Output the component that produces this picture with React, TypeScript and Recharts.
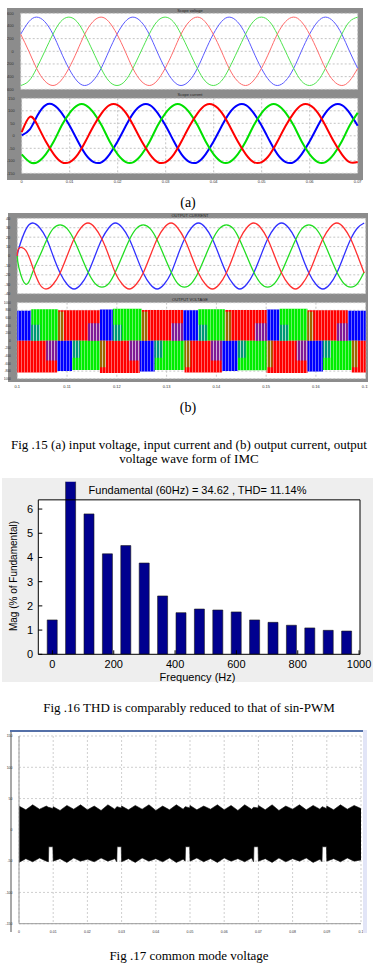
import React from "react";
import {
  LineChart,
  Line,
  BarChart,
  Bar,
  AreaChart,
  Area,
  XAxis,
  YAxis,
  CartesianGrid,
  ReferenceArea,
  ReferenceLine,
} from "recharts";

// ---- Fig 15 (a): input voltage / input current, 50 Hz, 0..0.07 s ----
const inTime = [
  0, 0.0017, 0.0033, 0.005, 0.0067, 0.0083, 0.01, 0.0117, 0.0133, 0.015, 0.0167, 0.0183,
  0.02, 0.0217, 0.0233, 0.025, 0.0267, 0.0283, 0.03, 0.0317, 0.0333, 0.035, 0.0367, 0.0383,
  0.04, 0.0417, 0.0433, 0.045, 0.0467, 0.0483, 0.05, 0.0517, 0.0533, 0.055, 0.0567, 0.0583,
  0.06, 0.0617, 0.0633, 0.065, 0.0667, 0.0683, 0.07,
];
const vinBlue = [
  270, 468, 540, 468, 270, 0, -270, -468, -540, -468, -270, 0,
  270, 468, 540, 468, 270, 0, -270, -468, -540, -468, -270, 0,
  270, 468, 540, 468, 270, 0, -270, -468, -540, -468, -270, 0,
  270, 468, 540, 468, 270, 0, -270,
];
const vinGreen = [
  -540, -468, -270, 0, 270, 468, 540, 468, 270, 0, -270, -468,
  -540, -468, -270, 0, 270, 468, 540, 468, 270, 0, -270, -468,
  -540, -468, -270, 0, 270, 468, 540, 468, 270, 0, -270, -468,
  -540, -468, -270, 0, 270, 468, 540,
];
const vinRed = [
  270, 0, -270, -468, -540, -468, -270, 0, 270, 468, 540, 468,
  270, 0, -270, -468, -540, -468, -270, 0, 270, 468, 540, 468,
  270, 0, -270, -468, -540, -468, -270, 0, 270, 468, 540, 468,
  270, 0, -270, -468, -540, -468, -270,
];
const iinBlue = [
  2, 26, 82, 123, 123, 92, 40, -22, -74, -105, -105, -74,
  -22, 40, 92, 123, 123, 92, 40, -22, -74, -105, -105, -74,
  -22, 40, 92, 123, 123, 92, 40, -22, -74, -105, -105, -74,
  -22, 40, 92, 123, 123, 92, 40,
];
const iinGreen = [
  -74, -105, -105, -74, -22, 40, 92, 123, 123, 92, 40, -22,
  -74, -105, -105, -74, -22, 40, 92, 123, 123, 92, 40, -22,
  -74, -105, -105, -74, -22, 40, 92, 123, 123, 92, 40, -22,
  -74, -105, -105, -74, -22, 40, 92,
];
const iinRed = [
  15, 76, 42, -22, -74, -105, -105, -74, -22, 40, 92, 123,
  123, 92, 40, -22, -74, -105, -105, -74, -22, 40, 92, 123,
  123, 92, 40, -22, -74, -105, -105, -74, -22, 40, 92, 123,
  123, 92, 40, -22, -74, -105, -105,
];
const inTicks = [0, 0.01, 0.02, 0.03, 0.04, 0.05, 0.06, 0.07];
const vinTicks = [-600, -400, -200, 0, 200, 400, 600];
const iinTicks = [-150, -100, -50, 0, 50, 100, 150];

// ---- Fig 15 (b): output current / output voltage, 60 Hz, 0.1..0.17 s ----
const outTime = [
  0.1, 0.1003, 0.1017, 0.1031, 0.1045, 0.1059, 0.1072, 0.1086, 0.11, 0.1114, 0.1128, 0.1142,
  0.1156, 0.117, 0.1184, 0.1197, 0.1211, 0.1225, 0.1239, 0.1253, 0.1267, 0.1281, 0.1295,
  0.1309, 0.1322, 0.1336, 0.135, 0.1364, 0.1378, 0.1392, 0.1406, 0.142, 0.1434, 0.1447,
  0.1461, 0.1475, 0.1489, 0.1503, 0.1517, 0.1531, 0.1545, 0.1559, 0.1572, 0.1586, 0.16,
  0.1614, 0.1628, 0.1642, 0.1656, 0.167, 0.1684, 0.1697,
];
const ioutBlue = [
  0, 8, 28, 35, 30, 18, 0, -18, -30, -35, -30, -18, 0,
  18, 30, 35, 30, 18, 0, -18, -30, -35, -30, -18, 0,
  18, 30, 35, 30, 18, 0, -18, -30, -35, -30, -18, 0,
  18, 30, 35, 30, 18, 0, -18, -30, -35, -30, -18, 0,
  18, 30, 35,
];
const ioutGreen = [
  0, -12, -30, -17, 0, 17, 29, 33, 29, 17, 0, -17, -29,
  -33, -29, -17, 0, 17, 29, 33, 29, 17, 0, -17, -29,
  -33, -29, -17, 0, 17, 29, 33, 29, 17, 0, -17, -29,
  -33, -29, -17, 0, 17, 29, 33, 29, 17, 0, -17, -29,
  -33, -29, -17,
];
const ioutRed = [
  0, 8, 6, -12, -30, -35, -30, -18, 0, 18, 30, 35, 30,
  18, 0, -18, -30, -35, -30, -18, 0, 18, 30, 35, 30,
  18, 0, -18, -30, -35, -30, -18, 0, 18, 30, 35, 30,
  18, 0, -18, -30, -35, -30, -18, 0, 18, 30, 35, 30,
  18, 0, -18,
];
const outTicks = [0.1, 0.11, 0.12, 0.13, 0.14, 0.15, 0.16, 0.17];
const ioutTicks = [-40, -30, -20, -10, 0, 10, 20, 30, 40];
const voutTicks = [-1000, -800, -600, -400, -200, 0, 200, 400, 600, 800, 1000];

// PWM output voltage: dominant phase colour blocks (start time, colour, envelope)
const voutUpStart = [0.1, 0.1028, 0.1082, 0.1166, 0.1192, 0.125, 0.1333, 0.1363, 0.1417, 0.1501, 0.1527, 0.1583, 0.1664];
const voutUpColor = ["b", "g", "r", "b", "g", "r", "b", "g", "r", "b", "g", "r", "b"];
const voutUpTop = [790, 830, 800, 820, 840, 810, 800, 830, 810, 820, 840, 800, 790];
const voutLowStart = [0.1, 0.108, 0.111, 0.1166, 0.1246, 0.1276, 0.1336, 0.1411, 0.1443, 0.1501, 0.1583, 0.1614, 0.1672];
const voutLowColor = ["r", "b", "g", "r", "b", "g", "r", "b", "g", "r", "b", "g", "r"];
const voutLowBottom = [-840, -800, -770, -850, -810, -770, -840, -800, -780, -850, -810, -770, -840];
// overlapping-phase patches (olive = red+green, teal = green+blue, purple = red+blue)
const voutMixStart = [
  0.1082, 0.125, 0.1417, 0.1583, 0.1142, 0.1309, 0.1477, 0.1642, 0.1028, 0.1192, 0.1363, 0.1527,
  0.1058, 0.1224, 0.1389, 0.1561, 0.1166, 0.1336, 0.1501, 0.1672, 0.111, 0.1276, 0.1443, 0.1614,
];
const voutMixEnd = [
  0.1094, 0.1262, 0.1429, 0.1595, 0.1166, 0.1333, 0.1501, 0.1664, 0.1046, 0.121, 0.1381, 0.1545,
  0.108, 0.1246, 0.1411, 0.1583, 0.1178, 0.1348, 0.1513, 0.1684, 0.1126, 0.1292, 0.1459, 0.163,
];
const voutMixColor = [
  "o", "o", "o", "o", "p", "p", "p", "p", "t", "t", "t", "t",
  "p", "p", "p", "p", "o", "o", "o", "o", "t", "t", "t", "t",
];
const voutMixLo = [0, 0, 0, 0, 0, 0, 0, 0, 0, 0, 0, 0, -520, -520, -520, -520, -700, -700, -700, -700, -450, -450, -450, -450];
const voutMixHi = [760, 760, 760, 760, 460, 460, 460, 460, 420, 420, 420, 420, 0, 0, 0, 0, 0, 0, 0, 0, 0, 0, 0, 0];

// ---- Fig 16: harmonic spectrum ----
const harmFreq = [0, 60, 120, 180, 240, 300, 360, 420, 480, 540, 600, 660, 720, 780, 840, 900, 960];
const harmMag = [1.42, 100, 5.8, 4.15, 4.49, 3.77, 2.41, 1.72, 1.87, 1.83, 1.75, 1.42, 1.32, 1.2, 1.09, 0.99, 0.96];
const freqTicks = [0, 200, 400, 600, 800, 1000];
const magTicks = [0, 1, 2, 3, 4, 5, 6];

// ---- Fig 17: common mode voltage ----
const cmTime = [
  0, 0.002, 0.004, 0.006, 0.008, 0.0086, 0.0087, 0.0099, 0.01, 0.012, 0.014, 0.016, 0.018,
  0.02, 0.022, 0.024, 0.026, 0.028, 0.0286, 0.0287, 0.0299, 0.03, 0.032, 0.034, 0.036, 0.038,
  0.04, 0.042, 0.044, 0.046, 0.048, 0.0486, 0.0487, 0.0499, 0.05, 0.052, 0.054, 0.056, 0.058,
  0.06, 0.062, 0.064, 0.066, 0.068, 0.0686, 0.0687, 0.0699, 0.07, 0.072, 0.074, 0.076, 0.078,
  0.08, 0.082, 0.084, 0.086, 0.088, 0.0886, 0.0887, 0.0899, 0.09, 0.092, 0.094, 0.096, 0.098, 0.1,
];
const cmHigh = [
  38, 32, 40, 33, 38, 36, 36, 34, 37, 31, 39, 33, 40,
  32, 38, 31, 40, 33, 37, 37, 35, 38, 32, 39, 33, 40,
  31, 38, 32, 40, 33, 37, 37, 35, 39, 32, 38, 33, 40,
  32, 39, 31, 40, 33, 36, 36, 35, 39, 32, 40, 31, 38,
  33, 40, 32, 39, 33, 37, 37, 34, 38, 32, 40, 33, 39, 34,
];
const cmLow = [
  -52, -46, -51, -45, -50, -51, -27, -27, -50, -46, -52, -45, -50,
  -47, -51, -45, -50, -46, -51, -27, -27, -51, -46, -52, -45, -50,
  -46, -51, -45, -52, -47, -50, -27, -27, -50, -45, -51, -46, -52,
  -45, -50, -46, -51, -45, -51, -27, -27, -50, -46, -52, -45, -51,
  -46, -50, -45, -52, -47, -51, -27, -27, -50, -46, -51, -45, -50, -48,
];
const cmTicksX = [0, 0.01, 0.02, 0.03, 0.04, 0.05, 0.06, 0.07, 0.08, 0.09, 0.1];
const cmTicksY = [-150, -100, -50, 0, 50, 100, 150];

const SANS = '"Liberation Sans", Arial, sans-serif';
const SERIF = '"Liberation Serif", "Times New Roman", serif';
const tiny = { fontSize: 4, fill: "#333", fontFamily: SANS };
const gridStroke = "#c4c4c4";
const phaseColor: Record<string, string> = {
  r: "#ff0000",
  g: "#00ee00",
  b: "#0000ff",
  o: "#8a7a00",
  t: "#008a8a",
  p: "#6a20b0",
};

function Txt({ x, y, size, serif, rotate, color, children }: any) {
  return (
    <div
      style={{
        position: "absolute",
        left: x,
        top: y,
        transform: `translate(-50%, -50%)${rotate ? ` rotate(${rotate}deg)` : ""}`,
        fontSize: size,
        fontFamily: serif ? SERIF : SANS,
        color: color ?? "#000",
        whiteSpace: "nowrap",
        lineHeight: 1,
      }}
    >
      {children}
    </div>
  );
}

function Box({ x, y, w, h, bg }: any) {
  return <div style={{ position: "absolute", left: x, top: y, width: w, height: h, background: bg }} />;
}

function Scope({ left, top, width, height, rows, domainX, ticksX, domainY, ticksY, yw, mt, mr, mb, xh, showX, lines }: any) {
  return (
    <div style={{ position: "absolute", left, top }}>
      <LineChart width={width} height={height} data={rows} margin={{ top: mt, right: mr, bottom: mb, left: 0 }}>
        <CartesianGrid stroke={gridStroke} strokeDasharray="2 2" fill="#fff" />
        <XAxis
          dataKey="t"
          type="number"
          domain={domainX}
          ticks={ticksX}
          interval={0}
          height={xh}
          tick={showX ? tiny : false}
          tickLine={false}
          axisLine={false}
          tickMargin={0.5}
        />
        <YAxis
          type="number"
          domain={domainY}
          ticks={ticksY}
          interval={0}
          width={yw}
          tick={tiny}
          tickLine={false}
          axisLine={false}
          tickMargin={1}
        />
        {lines.map((l: any) => (
          <Line
            key={l.key}
            dataKey={l.key}
            type="natural"
            stroke={l.color}
            strokeWidth={l.w}
            dot={false}
            isAnimationActive={false}
          />
        ))}
      </LineChart>
    </div>
  );
}

// each PWM block becomes two rows (start, end) of its own colour series, then a break row
function buildVoutRows() {
  const rows: any[] = [];
  const push = (key: string, t0: number, t1: number, v: number[]) => {
    rows.push({ t: t0, [key]: v }, { t: t1, [key]: v }, { t: t1 });
  };
  voutUpStart.forEach((t, i) => push("u" + voutUpColor[i], t, voutUpStart[i + 1] ?? 0.17, [0, voutUpTop[i]]));
  voutLowStart.forEach((t, i) => push("l" + voutLowColor[i], t, voutLowStart[i + 1] ?? 0.17, [voutLowBottom[i], 0]));
  voutMixStart.forEach((t, i) => push("m" + voutMixColor[i], t, voutMixEnd[i], [voutMixLo[i], voutMixHi[i]]));
  return rows;
}
const voutKeys = ["ub", "ug", "ur", "lr", "lb", "lg", "mo", "mt", "mp"];

export default function App() {
  const vinRows = inTime.map((t, i) => ({ t, r: vinRed[i], g: vinGreen[i], b: vinBlue[i] }));
  const iinRows = inTime.map((t, i) => ({ t, r: iinRed[i], g: iinGreen[i], b: iinBlue[i] }));
  const ioutRows = outTime.map((t, i) => ({ t, r: ioutRed[i], g: ioutGreen[i], b: ioutBlue[i] }));
  const voutRows = buildVoutRows();
  const harmRows = harmFreq.map((f, i) => ({ f, m: harmMag[i] }));
  const cmRows = cmTime.map((t, i) => ({ t, band: [cmLow[i], cmHigh[i]] }));

  return (
    <div style={{ position: "absolute", left: 0, top: 0, width: 375, height: 968, background: "#fff", overflow: "hidden" }}>
      {/* Fig 15 (a) */}
      <Box x={7} y={8} w={356} h={172} bg="#8c8c8c" />
      <Scope
        left={7} top={8} width={356} height={85} rows={vinRows}
        domainX={[0, 0.07]} ticksX={inTicks} domainY={[-600, 600]} ticksY={vinTicks}
        yw={13.7} mt={5.3} mr={5.3} mb={3} xh={0.7} showX={false}
        lines={[
          { key: "b", color: "#5a5aff", w: 1 },
          { key: "g", color: "#4ee44e", w: 1 },
          { key: "r", color: "#ff6a6a", w: 1 },
        ]}
      />
      <Scope
        left={7} top={93} width={356} height={90} rows={iinRows}
        domainX={[0, 0.07]} ticksX={inTicks} domainY={[-150, 150]} ticksY={iinTicks}
        yw={14.7} mt={5.3} mr={5.3} mb={0} xh={9.7} showX={true}
        lines={[
          { key: "b", color: "#0000ff", w: 2 },
          { key: "g", color: "#00e000", w: 2 },
          { key: "r", color: "#ff0000", w: 2 },
        ]}
      />
      <Txt x={190} y={10.5} size={4} color="#222">Scope voltage</Txt>
      <Txt x={190} y={95} size={4} color="#222">Scope current</Txt>
      <Txt x={188} y={203} size={14} serif>(a)</Txt>

      {/* Fig 15 (b) */}
      <Box x={8.3} y={213} w={360} h={169} bg="#8c8c8c" />
      <Scope
        left={4} top={213} width={364.3} height={84.7} rows={ioutRows}
        domainX={[0.1, 0.17]} ticksX={outTicks} domainY={[-40, 40]} ticksY={ioutTicks}
        yw={13.3} mt={5.3} mr={2.6} mb={3} xh={1} showX={false}
        lines={[
          { key: "b", color: "#3030ff", w: 1.3 },
          { key: "g", color: "#22dd22", w: 1.3 },
          { key: "r", color: "#ff3030", w: 1.3 },
        ]}
      />
      <div style={{ position: "absolute", left: 4, top: 298 }}>
        <AreaChart width={364.3} height={90} data={voutRows} margin={{ top: 4.7, right: 2.6, bottom: 0, left: 0 }}>
          <defs>
            <pattern id="pwmStripe" width="3" height="6" patternUnits="userSpaceOnUse">
              <rect x="2" width="1" height="6" fill="#ffffff" fillOpacity="0.4" />
            </pattern>
          </defs>
          <CartesianGrid stroke={gridStroke} strokeDasharray="2 2" fill="#fff" />
          <XAxis
            dataKey="t" type="number" domain={[0.1, 0.17]} ticks={outTicks} interval={0}
            height={9.3} tick={tiny} tickLine={false} axisLine={false} tickMargin={0}
          />
          <YAxis
            type="number" domain={[-1000, 1000]} ticks={voutTicks} interval={0}
            width={13.3} tick={{ ...tiny, fontSize: 3.2 }} tickLine={false} axisLine={false} tickMargin={0.5}
          />
          {voutKeys.map((k) => (
            <Area
              key={k} dataKey={k} type="linear" stroke="none" fill={phaseColor[k[1]]}
              fillOpacity={k[0] === "m" ? 0.85 : 1} connectNulls={false} isAnimationActive={false}
            />
          ))}
          {voutKeys.map((k) => (
            <Area
              key={`s${k}`} dataKey={k} type="linear" stroke="none" fill="url(#pwmStripe)"
              fillOpacity={1} connectNulls={false} isAnimationActive={false}
            />
          ))}
        </AreaChart>
      </div>
      <Txt x={190} y={216} size={4} color="#222">OUTPUT CURRENT</Txt>
      <Txt x={190} y={300} size={4} color="#222">OUTPUT VOLTAGE</Txt>
      <Txt x={188} y={408} size={14} serif>(b)</Txt>

      <Txt x={189} y={444} size={13} serif>Fig .15 (a) input voltage, input current and (b) output current, output</Txt>
      <Txt x={189} y={457.5} size={13} serif>voltage wave form of IMC</Txt>

      {/* Fig 16 */}
      <Box x={2} y={478} w={371} h={204} bg="#eeeeee" />
      <div style={{ position: "absolute", left: 3, top: 478 }}>
        <BarChart width={370} height={204} data={harmRows} margin={{ top: 3.7, right: 13, bottom: 0, left: 0 }}>
          <ReferenceArea x1={-46} x2={1003} y1={0} y2={6.38} fill="#fff" fillOpacity={1} stroke="none" />
          <XAxis
            dataKey="f" type="number" domain={[-46, 1003]} ticks={freqTicks} interval={0}
            height={27.7} tickSize={-4} tickMargin={9.7}
            tick={{ fontSize: 11, fill: "#000", fontFamily: SANS }}
            axisLine={{ stroke: "#000" }} tickLine={{ stroke: "#000" }}
          />
          <YAxis
            type="number" domain={[0, 7.13]} ticks={magTicks} interval={0} allowDataOverflow
            width={35.3} tickSize={-4} tickMargin={9.3}
            tick={{ fontSize: 11, fill: "#000", fontFamily: SANS }}
            axisLine={false} tickLine={{ stroke: "#000" }}
          />
          <ReferenceLine segment={[{ x: -46, y: 0 }, { x: -46, y: 6.38 }]} stroke="#000" />
          <ReferenceLine segment={[{ x: 1003, y: 0 }, { x: 1003, y: 6.38 }]} stroke="#000" />
          <ReferenceLine segment={[{ x: -46, y: 6.38 }, { x: 1003, y: 6.38 }]} stroke="#000" />
          <Bar dataKey="m" fill="#00008f" stroke="#1a1a1a" strokeWidth={0.6} barSize={10} isAnimationActive={false} />
        </BarChart>
      </div>
      <Txt x={197.5} y={490} size={11}>Fundamental (60Hz) = 34.62 , THD= 11.14%</Txt>
      <Txt x={13.5} y={576} size={10} rotate={-90}>Mag (% of Fundamental)</Txt>
      <Txt x={197.5} y={676.5} size={11}>Frequency (Hz)</Txt>

      <Txt x={189} y={707} size={13} serif>Fig .16 THD is comparably reduced to that of sin-PWM</Txt>

      {/* Fig 17 */}
      <Box x={10} y={731} w={2} h={201} bg="#a8a8a8" />
      <div style={{ position: "absolute", left: 3, top: 733 }}>
        <AreaChart width={360} height={203} data={cmRows} margin={{ top: 3, right: 2, bottom: 0, left: 0 }}>
          <CartesianGrid stroke="#cfcfcf" strokeDasharray="2 2" fill="#fff" />
          <XAxis
            dataKey="t" type="number" domain={[0, 0.1]} ticks={cmTicksX} interval={0}
            height={12.3} tick={{ ...tiny, fontSize: 3.5 }} tickLine={false} axisLine={{ stroke: "#9a9a9a" }} tickMargin={1}
          />
          <YAxis
            type="number" domain={[-150, 150]} ticks={cmTicksY} interval={0}
            width={16} tick={{ ...tiny, fontSize: 3.5 }} tickLine={false} axisLine={{ stroke: "#9a9a9a" }} tickMargin={0.5}
          />
          <Area
            dataKey="band" type="linear" fill="#000" fillOpacity={1} stroke="#111"
            strokeWidth={0.6} isAnimationActive={false}
          />
        </AreaChart>
      </div>
      <Box x={10} y={730} w={353} h={2} bg="#5470a8" />
      <Box x={363} y={730} w={4} h={203} bg="#e2e5f7" />

      <Txt x={189} y={955} size={13} serif>Fig .17 common mode voltage</Txt>
    </div>
  );
}
